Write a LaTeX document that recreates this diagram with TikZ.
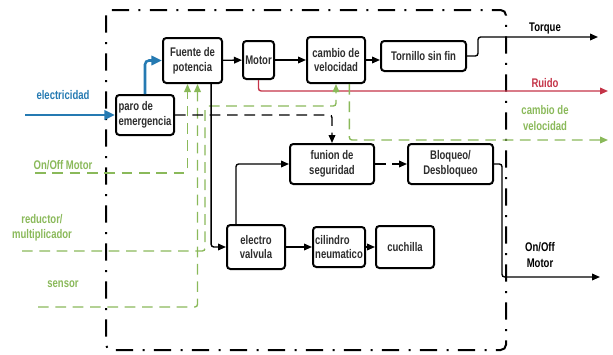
\documentclass[tikz,border=0pt]{standalone}
\usepackage{fontspec}
\setmainfont{Liberation Sans}[FakeStretch=0.76]
\usetikzlibrary{positioning, arrows.meta}
\definecolor{elecblue}{RGB}{37,122,178}
\definecolor{sigGreen}{RGB}{138,185,90}
\definecolor{noiseRed}{RGB}{196,52,72}
\definecolor{txtgray}{RGB}{45,45,45}
\tikzset{
  blk/.style={
      rectangle,
      draw,
      line width=1.5pt,
      rounded corners=2.5pt,
      inner sep=1pt,
      align=center,
      text=txtgray,
      font=\bfseries\fontsize{9.4}{11}\selectfont
    },
  lbl/.style={
      align=center,
      font=\bfseries\fontsize{9.4}{11.5}\selectfont
    },
  arr/.style={
      -{Triangle[length=6pt,width=5pt]},
      line width=1.05pt,
      rounded corners=2pt
    },
  barr/.style={
      -{Triangle[length=8pt,width=7pt]},
      elecblue,
      line width=1.9pt,
      rounded corners=3pt
    },
  garr/.style={
      arr,
      sigGreen,
      dash pattern=on 8pt off 5pt
    },
  darr/.style={
      arr,
      dash pattern=on 8pt off 5pt
    },
  frame/.style={
      line width=1.5pt,
      rounded corners=4pt,
      dash pattern=on 13pt off 7pt on 1.5pt off 7pt
    }
}
\begin{document}
\begin{tikzpicture}[x=0.75pt, y=-0.75pt]
  \useasboundingbox (0,0) rectangle (613,354);
  \draw[frame] (106,10) rectangle (506,350);
  % blocks
  \node[blk, minimum width=44.25pt, minimum height=33.75pt] (fte) at (192.5,60.5) {Fuente de\\potencia};
  \node[blk, minimum width=23.25pt, minimum height=28.5pt] (mot) at (258.5,60) {Motor};
  \node[blk, minimum width=43.5pt, minimum height=34.5pt] (cvb) at (336,60) {cambio de\\velocidad};
  \node[blk, minimum width=63.75pt, minimum height=22.5pt] (torn) at (423.5,56) {Tornillo sin fin};
  \node[blk, align=left, minimum width=43.5pt, minimum height=30pt] (paro) at (145,115) {paro de\\emergencia};
  \node[blk, minimum width=63pt, minimum height=30pt] (fun) at (332,164) {funion de\\seguridad};
  \node[blk, minimum width=63.75pt, minimum height=30pt] (blq) at (450.5,164) {Bloqueo/\\Desbloqueo};
  \node[blk, minimum width=43.5pt, minimum height=33pt] (ev) at (256,247) {electro\\valvula};
  \node[blk, align=left, minimum width=39pt, minimum height=30pt] (cil) at (339,247) {cilindro\\neumatico};
  \node[blk, minimum width=43.5pt, minimum height=31.5pt, right=6.75pt of cil] (cuch) {cuchilla};
  % labels
  \node[lbl, elecblue] (elec) at (63,95) {electricidad};
  \node[lbl, sigGreen] (onoff) at (63,165) {On/Off Motor};
  \node[lbl, sigGreen] (reduc) at (42,228) {reductor/\\multiplicador};
  \node[lbl, sigGreen] (sens) at (63,284) {sensor};
  \node[lbl] (torq) at (545,28) {Torque};
  \node[lbl, noiseRed] (ruido) at (545,83) {Ruido};
  \node[lbl, sigGreen] (cvel) at (545,118) {cambio de\\velocidad};
  \node[lbl] (onoff2) at (540,255) {On/Off\\Motor};
  % free ends
  \coordinate (eIn) at (25,115);
  \coordinate (oIn) at (35,173);
  \coordinate (rIn) at (22,251);
  \coordinate (sIn) at (38,307);
  \coordinate (rTurn) at (205,106);
  \coordinate (tOut) at (598,37);
  \coordinate (nOut) at (608,91);
  \coordinate (cOut) at (608,140);
  \coordinate (bTurn) at (502,277);
  \coordinate (mOut) at (600,277);
  % connectors
  \draw[barr] (eIn) -- (paro);
  \draw[barr] (paro.north) |- (fte.west);
  \draw[arr] (fte) -- (mot);
  \draw[arr] (mot) -- (cvb);
  \draw[arr] (cvb.east) -- (cvb.east -| torn.west);
  \draw[arr] (torn.east) -- ++(11,0) |- (tOut);
  \draw[arr, noiseRed] (mot.south) |- (nOut);
  \draw[garr] ([xshift=10pt]cvb.south) |- (cOut);
  \draw[garr] (rIn) -| (rTurn) -| (cvb.south);
  \draw[garr] (oIn) -| ([xshift=-3.75pt]fte.south);
  \draw[garr] (sIn) -| ([xshift=3.75pt]fte.south);
  \draw[darr] (paro.east) -| (fun.north);
  \draw[darr] (fun) -- (blq);
  \draw[arr] (blq.east) -| (bTurn) -- (mOut);
  \draw[arr] ([xshift=14pt]fte.south) |- (ev.west);
  \draw[arr] ([xshift=-15pt]ev.north) |- (fun.west);
  \draw[arr] (ev) -- (cil);
  \draw[arr] (cil) -- (cuch);
\end{tikzpicture}
\end{document}
